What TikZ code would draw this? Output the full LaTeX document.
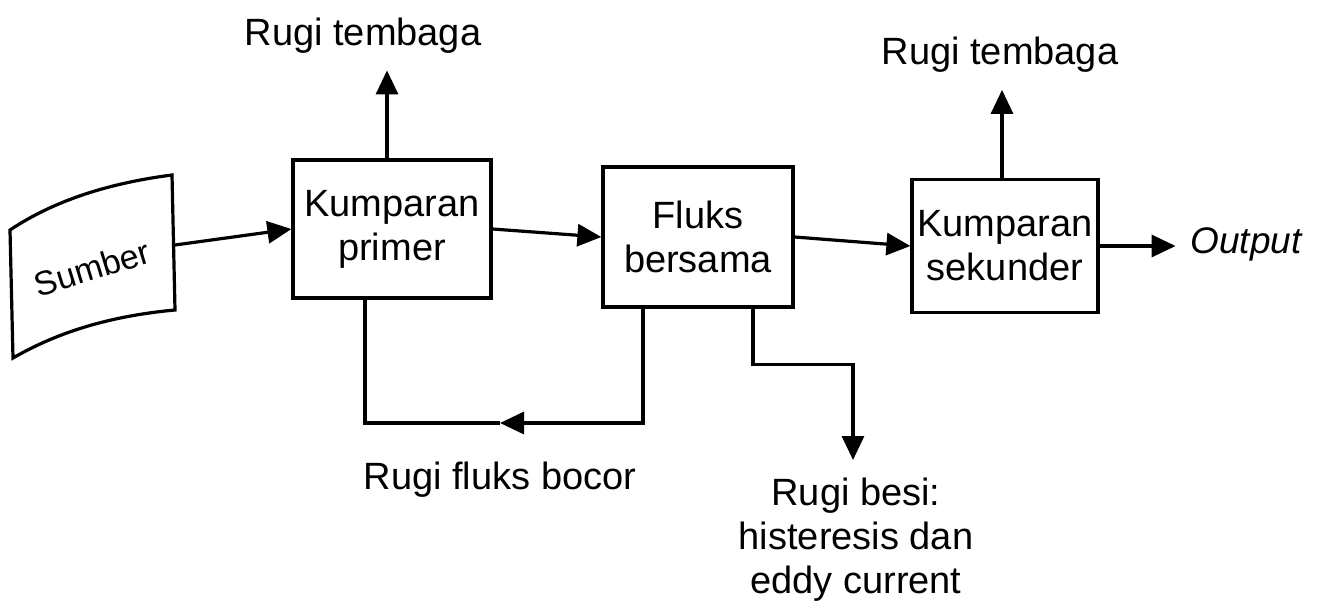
\documentclass[tikz,border=0pt]{standalone}
\usepackage{fontspec}
\setmainfont{Liberation Sans}
\usetikzlibrary{arrows.meta,calc}
\begin{document}
\begin{tikzpicture}[x=1pt,y=-1pt,
  line width=3.2pt,
  arr/.style={-{Triangle[length=24pt,width=22pt]}},
  blockbox/.style={draw,line width=3.2pt,align=center,inner sep=2pt,font=\fontsize{38}{44}\selectfont},
  lbl/.style={align=center,inner sep=0pt,font=\fontsize{38}{44}\selectfont}]
\useasboundingbox (0,0) rectangle (1317,608);
% Sumber shape
\draw (10,230) .. controls (55,200) and (110,183) .. (172,175) -- (175,310)
      .. controls (110,316) and (58,332) .. (13,358) -- cycle;
\node[lbl,rotate=17,font=\fontsize{34}{40}\selectfont] (sumber) at (92,268) {Sumber};
\coordinate (sR) at (175,245);
% blocks
\node[blockbox,minimum width=198pt,minimum height=138pt] (prim) at (392,229) {Kumparan\\primer};
\node[blockbox,minimum width=190pt,minimum height=140pt] (fluks) at (698,237) {Fluks\\bersama};
\node[blockbox,minimum width=186pt,minimum height=133pt] (sek) at (1005,246) {Kumparan\\sekunder};
% labels
\node[lbl] (rt1) at (363,36) {Rugi tembaga};
\node[lbl] (rt2) at (1000,55) {Rugi tembaga};
\node[lbl,font=\fontsize{37}{44}\selectfont\itshape] (out) at (1246,244) {Output};
\node[lbl] (bocor) at (500,480) {Rugi fluks bocor};
\node[lbl] (besi) at (856,540) {Rugi besi:\\histeresis dan\\eddy current};
% connectors
\draw[arr] (sR) -- (prim.west);
\draw[arr] (prim.east) -- (fluks.west);
\draw[arr] (fluks.east) -- (sek.west);
\draw[arr] (sek.east) -- ($(sek.east)+(76,0)$) coordinate (outE);
\draw[arr] ([xshift=-5pt]prim.north) -- ++(0,-88) coordinate (up1);
\draw[arr] ([xshift=-3pt]sek.north) -- ++(0,-88) coordinate (up2);
\coordinate (fbmid) at (500,423);
\draw[arr] ([xshift=-55pt]fluks.south) |- (fbmid);
\draw (fbmid) -| ([xshift=-27pt]prim.south);
\coordinate (besiTip) at (853,460);
\draw[arr] ([xshift=55pt]fluks.south) -- ++(0,56) -| (besiTip);
\end{tikzpicture}
\end{document}
